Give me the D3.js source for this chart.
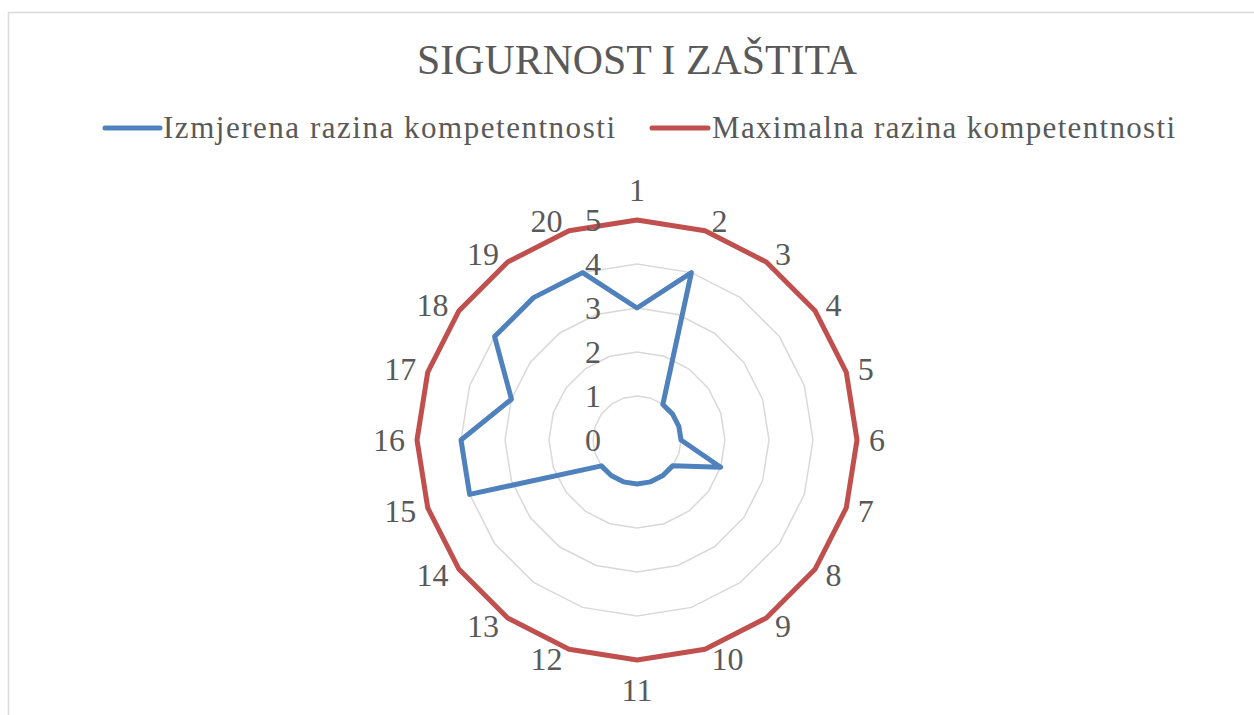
<!DOCTYPE html>
<html>
<head>
<meta charset="utf-8">
<script src="https://cdnjs.cloudflare.com/ajax/libs/d3/7.8.5/d3.min.js"></script>
<style>
  body { margin: 0; background: #fff; }
  svg { display: block; }
  text { font-family: "Liberation Serif", "Times New Roman", serif; fill: #595959; }
</style>
</head>
<body>
<div id="chart"></div>
<script>
// chart data
var categories = ["1","2","3","4","5","6","7","8","9","10","11","12","13","14","15","16","17","18","19","20"];
var measured = [3,4,1,1,1,1,2,1,1,1,1,1,1,1,4,4,3,4,4,4];
var maximum = [5,5,5,5,5,5,5,5,5,5,5,5,5,5,5,5,5,5,5,5];
var tickValues = [0,1,2,3,4,5];
var seriesNames = ["Izmjerena razina kompetentnosti", "Maximalna razina kompetentnosti"];
var seriesColors = ["#4f81bd", "#c0504d"];
var title = "SIGURNOST I ZAŠTITA";

var width = 1254, height = 715;
var cx = 637, cy = 440, R = 220;

var svg = d3.select("#chart").append("svg")
    .attr("width", width)
    .attr("height", height);

// outer chart frame (partly off screen)
svg.append("rect")
    .attr("x", 8.5).attr("y", 12.5)
    .attr("width", width).attr("height", height)
    .attr("fill", "none")
    .attr("stroke", "#d9d9d9")
    .attr("stroke-width", 1.5);

svg.append("text")
    .attr("x", cx).attr("y", 74)
    .attr("text-anchor", "middle")
    .attr("font-size", 42)
    .attr("textLength", 440)
    .attr("lengthAdjust", "spacingAndGlyphs")
    .text(title);

// legend
var legendItems = [
    {name: seriesNames[0], color: seriesColors[0], x1: 105, x2: 160, tx: 163, tw: 452},
    {name: seriesNames[1], color: seriesColors[1], x1: 652, x2: 708, tx: 712, tw: 463}
];
var legend = svg.selectAll(".legend").data(legendItems)
    .enter().append("g").attr("class", "legend");
legend.append("line")
    .attr("x1", function(d) { return d.x1; })
    .attr("x2", function(d) { return d.x2; })
    .attr("y1", 128).attr("y2", 128)
    .attr("stroke", function(d) { return d.color; })
    .attr("stroke-width", 5)
    .attr("stroke-linecap", "round");
legend.append("text")
    .attr("x", function(d) { return d.tx; })
    .attr("y", 138)
    .attr("font-size", 31)
    .attr("textLength", function(d) { return d.tw; })
    .attr("lengthAdjust", "spacing")
    .text(function(d) { return d.name; });

// scales
var rScale = d3.scaleLinear().domain([0, 5]).range([0, R]);
var aScale = d3.scaleLinear().domain([0, categories.length]).range([0, 2 * Math.PI]);

function px(i, v) { return cx + rScale(v) * Math.sin(aScale(i)); }
function py(i, v) { return cy - rScale(v) * Math.cos(aScale(i)); }

var radar = d3.lineRadial()
    .angle(function(d, i) { return aScale(i); })
    .radius(function(d) { return rScale(d); })
    .curve(d3.curveLinearClosed);

var plot = svg.append("g").attr("transform", "translate(" + cx + "," + cy + ")");

// grid rings
plot.selectAll(".ring").data(tickValues.slice(1))
    .enter().append("path")
    .attr("class", "ring")
    .attr("d", function(v) { return radar(categories.map(function() { return v; })); })
    .attr("fill", "none")
    .attr("stroke", "#d9d9d9")
    .attr("stroke-width", 1.5);

// tick labels
svg.selectAll(".tick").data(tickValues)
    .enter().append("text")
    .attr("class", "tick")
    .attr("x", cx - 36)
    .attr("y", function(v) { return cy - rScale(v); })
    .attr("dy", "0.35em")
    .attr("text-anchor", "end")
    .attr("font-size", 32)
    .text(function(v) { return v; });

// series
plot.selectAll(".series").data([measured, maximum])
    .enter().append("path")
    .attr("class", "series")
    .attr("d", function(d) { return radar(d); })
    .attr("fill", "none")
    .attr("stroke", function(d, i) { return seriesColors[i]; })
    .attr("stroke-width", 5)
    .attr("stroke-linejoin", "round");

// category labels outside the max ring
svg.selectAll(".cat").data(categories)
    .enter().append("text")
    .attr("class", "cat")
    .attr("font-size", 32)
    .attr("dy", "0.35em")
    .attr("text-anchor", function(d, i) {
        var s = Math.sin(aScale(i));
        if (Math.abs(s) < 0.01) return "middle";
        return s > 0 ? "start" : "end";
    })
    .attr("x", function(d, i) {
        var s = Math.sin(aScale(i));
        if (Math.abs(s) < 0.01) return px(i, 5);
        return px(i, 5) + (s > 0 ? 1 : -1) * (4 + 8 * Math.abs(s));
    })
    .attr("y", function(d, i) {
        var s = Math.sin(aScale(i)), c = Math.cos(aScale(i));
        if (Math.abs(s) < 0.01) return py(i, 5) - 30 * c;
        return py(i, 5) - 10 * c;
    })
    .text(function(d) { return d; });
</script>
</body>
</html>
